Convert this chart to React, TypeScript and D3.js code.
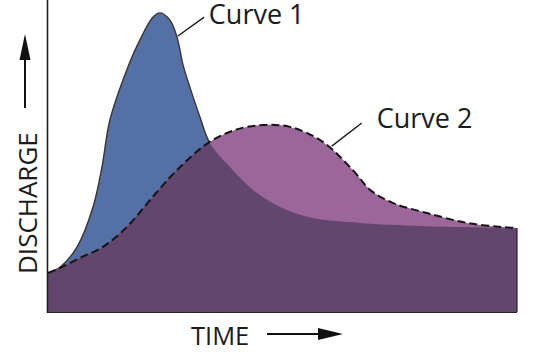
import React from "react";
import * as d3 from "d3";

// Curve 1 (blue hydrograph)
const time1 = [0, 2.6, 6.2, 9.6, 11.5, 13.2, 16.8, 19.6, 22.4, 23.9, 26.0, 27.5, 28.8, 30.3, 32.4, 34.5, 38.8, 43.7, 49.5, 56.5, 66.5, 79.3, 89.3, 100];
const discharge1 = [13, 15, 21.7, 35, 48.3, 64, 80.7, 90.7, 98.3, 99.7, 97.3, 91.7, 82.3, 74.7, 65, 56.3, 48.3, 40.7, 35, 31.3, 29.7, 28.7, 28.3, 27.8];

// Curve 2 (purple hydrograph, dashed)
const time2 = [0, 2.6, 6.8, 11.7, 16.8, 22.4, 27.5, 34.1, 39.9, 45.8, 51.6, 58.6, 65.0, 68.7, 73.6, 80.8, 89.3, 97.0, 100];
const discharge2 = [13, 14.7, 18, 21.7, 28.3, 38.5, 47.3, 56.3, 60.7, 62.3, 61.7, 56.7, 47.3, 40.7, 36.3, 33, 29.7, 28.3, 28];

const labels = ["Curve 1", "Curve 2"];
const xLabel = "TIME";
const yLabel = "DISCHARGE";

const W = 536;
const H = 357;

export default function App() {
  const x = d3.scaleLinear().domain([0, 100]).range([48, 517]);
  const y = d3.scaleLinear().domain([0, 104]).range([312, 0]);

  const pts1: [number, number][] = time1.map((t, i) => [t, discharge1[i]]);
  const pts2: [number, number][] = time2.map((t, i) => [t, discharge2[i]]);

  const curve = d3.curveCatmullRom.alpha(0.5);
  const area = d3
    .area<[number, number]>()
    .x((d) => x(d[0]))
    .y0(y(0))
    .y1((d) => y(d[1]))
    .curve(curve);
  const line = d3
    .line<[number, number]>()
    .x((d) => x(d[0]))
    .y((d) => y(d[1]))
    .curve(curve);

  const a1 = area(pts1) || "";
  const a2 = area(pts2) || "";
  const l1 = line(pts1) || "";
  const l2 = line(pts2) || "";

  const font = "'Open Sans', 'Noto Sans', sans-serif";
  const textColor = "#1b1b1b";

  const last2 = pts2[pts2.length - 1];

  return (
    <svg
      width={W}
      height={H}
      style={{ position: "absolute", left: 0, top: 0, background: "#fff" }}
    >
      <defs>
        <clipPath id="clip1">
          <path d={a1} />
        </clipPath>
      </defs>
      <path d={a1} fill="#5470a5" />
      <path d={l1} fill="none" stroke="#3a3532" strokeWidth={1.4} />
      <path d={a2} fill="#9b679a" />
      <path d={a2} fill="#62466e" clipPath="url(#clip1)" />
      <path
        d={l2}
        fill="none"
        stroke="#151515"
        strokeWidth={2}
        strokeDasharray="8 4"
      />
      {/* right edge */}
      <line
        x1={x(last2[0])}
        x2={x(last2[0])}
        y1={y(last2[1])}
        y2={y(0)}
        stroke="#2a2228"
        strokeWidth={1.2}
      />
      {/* axes */}
      <line x1={x(0)} x2={x(100)} y1={y(0) + 0.5} y2={y(0) + 0.5} stroke="#2a2228" strokeWidth={1.2} />
      <line x1={x(0) - 0.5} x2={x(0) - 0.5} y1={0} y2={y(0) + 1} stroke="#1e1e1e" strokeWidth={1.6} />

      {/* leader lines */}
      <line x1={x(27.7)} y1={y(92)} x2={x(33.3)} y2={y(98.3)} stroke="#1b1b1b" strokeWidth={1.4} />
      <line x1={x(60.5)} y1={y(55.3)} x2={x(66.9)} y2={y(63)} stroke="#1b1b1b" strokeWidth={1.4} />

      <text x={x(34.3)} y={y(96)} fontFamily={font} fontSize={27} fill={textColor}>
        {labels[0]}
      </text>
      <text x={x(70.1)} y={y(61.3)} fontFamily={font} fontSize={27} fill={textColor}>
        {labels[1]}
      </text>

      {/* x axis title */}
      <text x={191} y={345} fontFamily={font} fontSize={25.5} fill={textColor}>
        {xLabel}
      </text>
      <line x1={267} x2={320} y1={334} y2={334} stroke="#111" strokeWidth={2} />
      <path d="M318,328 L343,334 L318,340 Z" fill="#111" />

      {/* y axis title */}
      <text
        transform="translate(37,274) rotate(-90)"
        fontFamily={font}
        fontSize={26}
        fill={textColor}
      >
        {yLabel}
      </text>
      <line x1={25} x2={25} y1={108} y2={58} stroke="#111" strokeWidth={2} />
      <path d="M19.5,60 L25,34 L30.5,60 Z" fill="#111" />
    </svg>
  );
}
